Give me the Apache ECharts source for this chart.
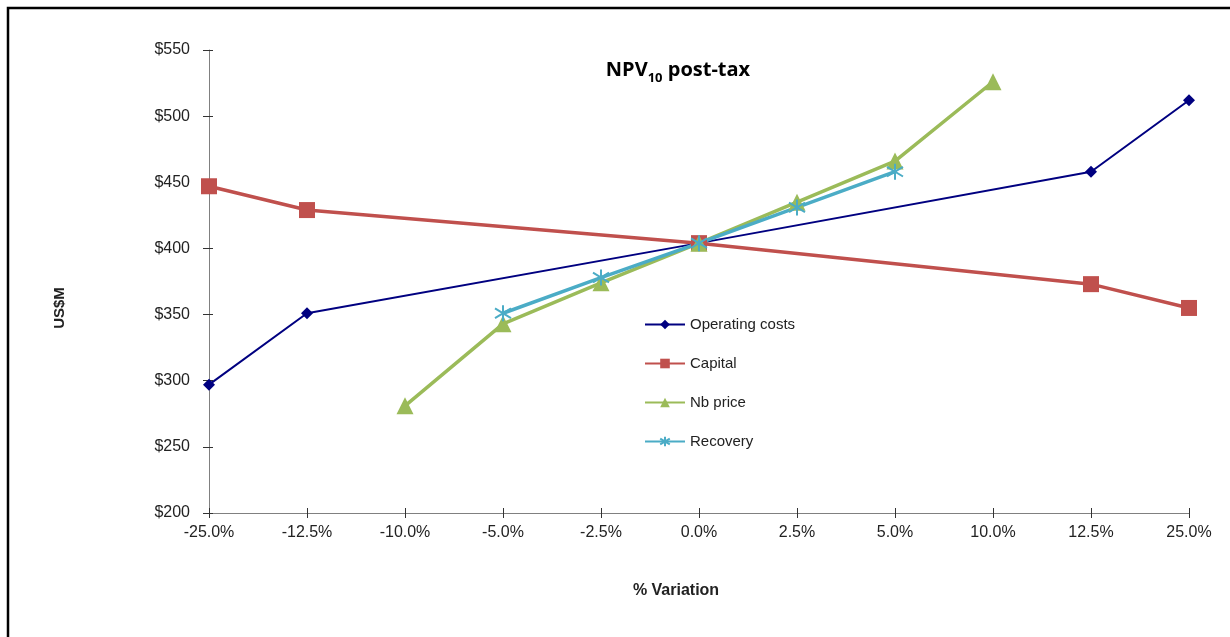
<!DOCTYPE html>
<html>
<head>
<meta charset="utf-8">
<script src="https://cdn.jsdelivr.net/npm/echarts@6/dist/echarts.min.js"></script>
<style>
html,body{margin:0;padding:0;background:#fff;}
#c{width:1230px;height:637px;}
</style>
</head>
<body>
<div id="c"></div>
<script>
var categories = ['-25.0%','-12.5%','-10.0%','-5.0%','-2.5%','0.0%','2.5%','5.0%','10.0%','12.5%','25.0%'];
var operatingCosts = [297, 351, null, null, null, 404, null, null, null, 458, 512];
var capital = [447, 429, null, null, null, 404, null, null, null, 373, 355];
var nbPrice = [null, null, 281, 343, 374, 404, 435, 466, 526, null, null];
var recovery = [null, null, null, 351, 378, 404, 431, 458, null, null, null];
var yMin = 200, yMax = 550, yStep = 50;

var asterisk = 'path://M10,0 L10,20 M1.5,4 L18.5,16 M1.5,16 L18.5,4';
var font = 'Liberation Sans, Arial, sans-serif';

var chart = echarts.init(document.getElementById('c'));
var axisCol = '#808080';
chart.setOption({
  animation: false,
  backgroundColor: '#fff',
  title: {
    left: 673, top: 49, textAlign: 'center',
    text: '{a|NPV}{b|10}{a| post-tax}',
    textStyle: {
      rich: {
        a: {fontFamily: 'Open Sans, sans-serif', fontWeight: 'bold', fontSize: 20, color: '#000', verticalAlign: 'bottom', lineHeight: 26},
        b: {fontFamily: 'Open Sans, sans-serif', fontWeight: 'bold', fontSize: 13, color: '#000', verticalAlign: 'bottom', lineHeight: 18, padding: [0,0,-5,0]}
      }
    }
  },
  graphic: [{
    type: 'rect', shape: {x: 8, y: 8, width: 1400, height: 800},
    style: {fill: 'none', stroke: '#000', lineWidth: 2.5}, silent: true, z: 100
  },{
    type: 'text', x: 60, y: 308, rotation: Math.PI / 2,
    style: {text: 'US$M', fontFamily: font, fontWeight: 'bold', fontSize: 15, fill: '#222', align: 'center', verticalAlign: 'middle'}
  },{
    type: 'text', x: 676, y: 591,
    style: {text: '% Variation', fontFamily: font, fontWeight: 'bold', fontSize: 16, fill: '#222', align: 'center', verticalAlign: 'middle'}
  }],
  legend: {
    orient: 'vertical', left: 639, top: 312, itemGap: 24,
    itemWidth: 40, itemHeight: 12,
    textStyle: {fontFamily: font, fontSize: 15, color: '#222'},
    data: ['Operating costs','Capital','Nb price','Recovery']
  },
  grid: {left: 209, right: 41, top: 50, bottom: 124, containLabel: false},
  xAxis: [{
    type: 'category', data: categories, boundaryGap: false,
    axisLine: {lineStyle: {color: axisCol, width: 1}},
    axisTick: {show: true, inside: false, length: 5, alignWithLabel: true, lineStyle: {color: '#333'}},
    axisLabel: {fontFamily: font, fontSize: 16, color: '#222', margin: 12, interval: 0},
    splitLine: {show: false}
  },{
    type: 'category', data: categories, boundaryGap: false, position: 'bottom',
    axisLine: {show: false},
    axisTick: {show: true, inside: true, length: 5, lineStyle: {color: '#333'}},
    axisLabel: {show: false}, splitLine: {show: false}
  }],
  yAxis: [{
    type: 'value', min: yMin, max: yMax, interval: yStep,
    axisLine: {show: true, lineStyle: {color: axisCol, width: 1}},
    axisTick: {show: true, inside: false, length: 6, lineStyle: {color: '#333'}},
    axisLabel: {fontFamily: font, fontSize: 16, color: '#222', margin: 19, formatter: function(v){return '$' + v;}},
    splitLine: {show: false}
  },{
    type: 'value', min: yMin, max: yMax, interval: yStep, position: 'left',
    axisLine: {show: false},
    axisTick: {show: true, inside: true, length: 4, lineStyle: {color: '#333'}},
    axisLabel: {show: false}, splitLine: {show: false}
  }],
  series: [
    {name: 'Operating costs', type: 'line', data: operatingCosts, connectNulls: true,
     symbol: 'diamond', symbolSize: 12, showAllSymbol: true,
     lineStyle: {color: '#000080', width: 2}, itemStyle: {color: '#000080'}},
    {name: 'Capital', type: 'line', data: capital, connectNulls: true,
     symbol: 'rect', symbolSize: 16,
     lineStyle: {color: '#C0504D', width: 3.5}, itemStyle: {color: '#C0504D'}},
    {name: 'Nb price', type: 'line', data: nbPrice, connectNulls: true,
     symbol: 'triangle', symbolSize: 17,
     lineStyle: {color: '#9BBB59', width: 3.5}, itemStyle: {color: '#9BBB59'}},
    {name: 'Recovery', type: 'line', data: recovery, connectNulls: true,
     symbol: asterisk, symbolSize: 16,
     lineStyle: {color: '#4BACC6', width: 3.5},
     itemStyle: {color: 'none', borderColor: '#4BACC6', borderWidth: 2}}
  ]
});
</script>
</body>
</html>
